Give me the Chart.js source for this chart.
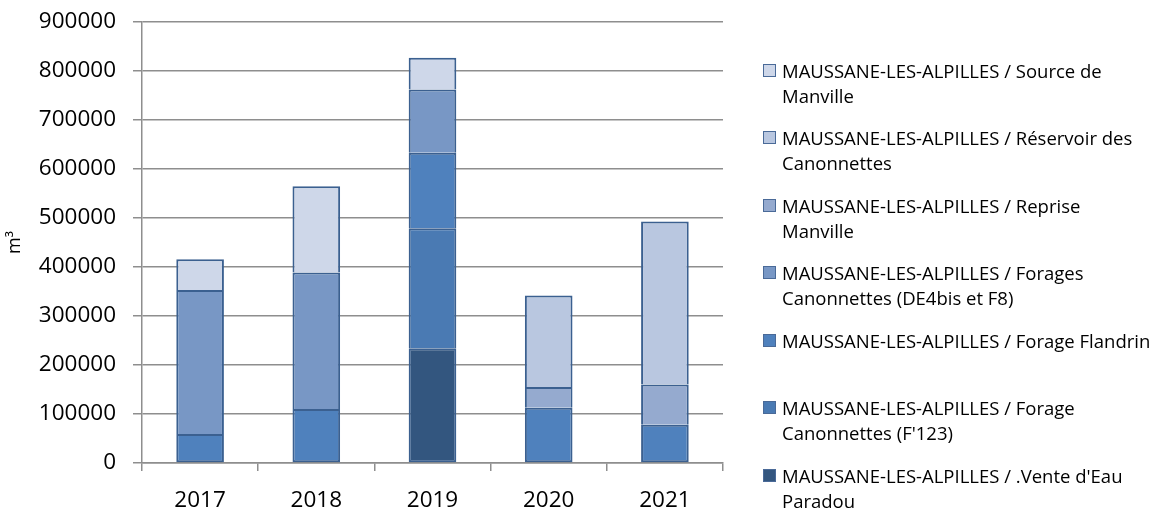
<!DOCTYPE html>
<html>
<head>
<meta charset="utf-8">
<script src="https://cdn.jsdelivr.net/npm/chart.js@4.4.1/dist/chart.umd.min.js"></script>
<style>
  html, body { margin: 0; padding: 0; background: #fff; }
  #wrap { position: relative; width: 1161px; height: 512px; }
  #wrap canvas { position: absolute; left: 0; top: 0; }
  #legend { position: absolute; left: 0; top: 0; }
  .item { position: absolute; left: 763px; font-family: 'Open Sans', sans-serif; font-size: 18.5px; line-height: 25.3px; color: #000; white-space: nowrap; }
  .sw { position: absolute; left: 0; top: 6px; width: 11px; height: 11px; border: 1px solid #4a6a98; }
  .txt { position: absolute; left: 19px; top: 0; }
</style>
</head>
<body>
<div id="wrap">
  <canvas id="chart" width="1161" height="512"></canvas>
  <div id="legend"></div>
</div>
<script>
// --- datos ---
const years = ['2017', '2018', '2019', '2020', '2021'];

// series, de abajo hacia arriba en la pila
const venteParadou   = [null, null, 234000, null, null];
const forageF123     = [null, null, 245000, null, null];
const forageFlandrin = [59000, 110000, 154000, 113000, 78000];
const foragesDE4bis  = [294000, 279000, 129500, null, null];
const repriseManv    = [null, null, null, 42000, 82000];
const reservoirCan   = [null, null, null, 187000, 333000];
const sourceManv     = [63000, 176000, 64500, null, null];

const yTicks = [0, 100000, 200000, 300000, 400000, 500000, 600000, 700000, 800000, 900000];

// nombres (cortados en líneas como en la leyenda)
const nombres = [
    ["MAUSSANE-LES-ALPILLES / .Vente d'Eau", 'Paradou'],
    ['MAUSSANE-LES-ALPILLES / Forage', "Canonnettes (F'123)"],
    ['MAUSSANE-LES-ALPILLES / Forage Flandrin'],
    ['MAUSSANE-LES-ALPILLES / Forages', 'Canonnettes (DE4bis et F8)'],
    ['MAUSSANE-LES-ALPILLES / Reprise', 'Manville'],
    ['MAUSSANE-LES-ALPILLES / Réservoir des', 'Canonnettes'],
    ['MAUSSANE-LES-ALPILLES / Source de', 'Manville']
];
const colores = ['#33567F', '#4A7AB3', '#4F81BD', '#7897C5', '#95AACF', '#B9C7E0', '#CED7E9'];
const series = [venteParadou, forageF123, forageFlandrin, foragesDE4bis, repriseManv, reservoirCan, sourceManv];

// borde de 2px; entre segmentos solo lo pone el de abajo (así no sale doble)
function anchoBorde(ctx) {
    if (!ctx.raw) return 0;
    const i = ctx.datasetIndex, j = ctx.dataIndex;
    const abajo = series.slice(0, i).some(s => s[j]);
    return { top: 2, bottom: abajo ? 0 : 2, left: 2, right: 2 };
}

const datasets = series.map((vals, i) => ({
    label: nombres[i].join(' '),
    data: vals,
    backgroundColor: colores[i],
    borderColor: '#3B6090',
    borderWidth: anchoBorde,
    borderSkipped: false,
    categoryPercentage: 1,
    barPercentage: 0.41
}));

const fuente = "'Open Sans', sans-serif";
const gris = '#8e8e8e';

new Chart(document.getElementById('chart').getContext('2d'), {
    type: 'bar',
    data: { labels: years, datasets: datasets },
    options: {
        responsive: false,
        animation: false,
        layout: { padding: { left: 0, right: 438, top: 22, bottom: 0 } },
        plugins: { legend: { display: false }, tooltip: { enabled: false } },
        scales: {
            x: {
                stacked: true,
                grid: { offset: true, drawOnChartArea: false, drawTicks: true, tickLength: 8, color: gris, lineWidth: 1.5 },
                border: { color: gris, width: 1.5 },
                ticks: { color: '#000', font: { family: fuente, size: 22.5 }, padding: 16 },
                afterFit: scale => { scale.height = 49; scale.paddingLeft = 0; scale.paddingRight = 0; }
            },
            y: {
                stacked: true,
                min: 0,
                max: 900000,
                afterBuildTicks: scale => { scale.ticks = yTicks.map(v => ({ value: v })); },
                grid: { color: gris, lineWidth: 1.5, tickLength: 9 },
                border: { color: gris, width: 1.5 },
                ticks: { color: '#000', font: { family: fuente, size: 22.5 }, padding: 17, callback: v => String(v) },
                title: { display: true, text: 'm³', color: '#000', font: { family: fuente, size: 18 }, padding: { top: 4, bottom: 0 } },
                afterFit: scale => { scale.width = 142; scale.paddingTop = 0; scale.paddingBottom = 0; }
            }
        }
    }
});

// --- leyenda (orden inverso: la serie de arriba primero) ---
const legend = document.getElementById('legend');
for (let k = 0; k < series.length; k++) {
    const i = series.length - 1 - k;
    const item = document.createElement('div');
    item.className = 'item';
    item.style.top = (57.5 + k * 67.5) + 'px';
    const sw = document.createElement('div');
    sw.className = 'sw';
    sw.style.background = colores[i];
    const txt = document.createElement('div');
    txt.className = 'txt';
    txt.innerHTML = nombres[i].join('<br>');
    item.appendChild(sw);
    item.appendChild(txt);
    legend.appendChild(item);
}
</script>
</body>
</html>
